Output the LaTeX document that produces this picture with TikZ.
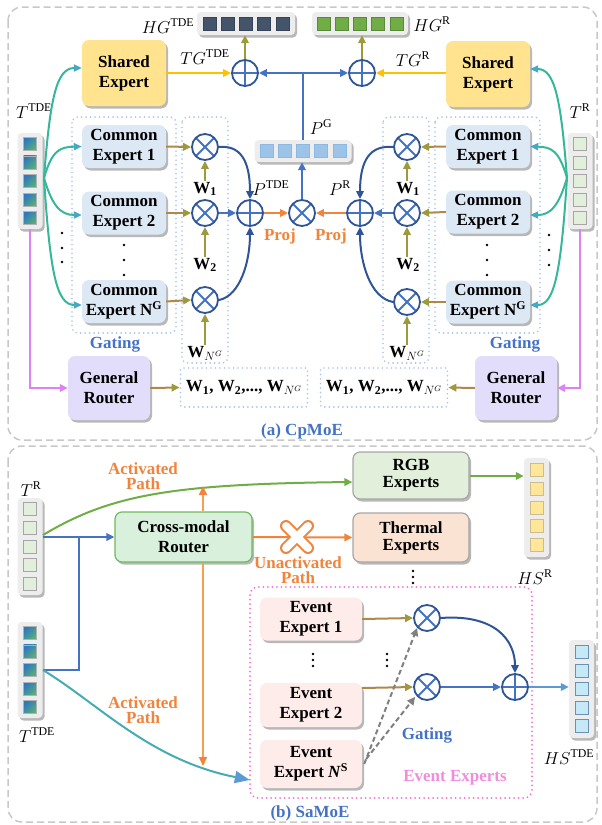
\documentclass[tikz,border=0pt]{standalone}
\usepackage{fontspec}
\setmainfont{Liberation Serif}
\usetikzlibrary{arrows.meta,shadows,calc}
\definecolor{cdblue}{HTML}{2F5597}
\definecolor{cblue}{HTML}{4472C4}
\definecolor{clblue}{HTML}{5B9BD5}
\definecolor{cteal}{HTML}{36B79A}
\definecolor{ctealtip}{HTML}{45A8C5}
\definecolor{cviolet}{HTML}{DD82F2}
\definecolor{colive}{HTML}{9C9A3C}
\definecolor{cbrown}{HTML}{B0884A}
\definecolor{corange}{HTML}{F0843C}
\definecolor{corangel}{HTML}{F9A04E}
\definecolor{cyline}{HTML}{FFC000}
\definecolor{cshared}{HTML}{FFE38E}
\definecolor{ccommon}{HTML}{DDE8F5}
\definecolor{crouter}{HTML}{E1DDFA}
\definecolor{cgate}{HTML}{A9C2EA}
\definecolor{cgray}{HTML}{C8C8C8}
\definecolor{cpink}{HTML}{F56FD6}
\definecolor{cpinktext}{HTML}{F28BDB}
\definecolor{cgreen}{HTML}{70AD47}
\definecolor{ccross}{HTML}{D8F0DC}
\definecolor{ccrossb}{HTML}{72B85E}
\definecolor{crgb}{HTML}{E2EFDA}
\definecolor{cthermal}{HTML}{FBE3D4}
\definecolor{cevent}{HTML}{FDECEA}
\definecolor{ctdeA}{HTML}{2F78C0}
\definecolor{ctdeB}{HTML}{5AAE78}
\definecolor{cvecbg}{HTML}{EDEDED}
\definecolor{chsr}{HTML}{FFE699}
\definecolor{chst}{HTML}{C5E9F7}
\definecolor{chg}{HTML}{44546A}
\begin{document}
\begin{tikzpicture}[x=1pt,y=-1pt,
  every node/.style={font=\fontsize{17}{19.5}\selectfont, inner sep=1pt},
  shd/.style={drop shadow={shadow xshift=2pt,shadow yshift=-2.5pt,opacity=0.28,fill=black}},
  bx/.style={rounded corners=7pt, align=center, font=\fontsize{17}{20}\selectfont\bfseries, inner sep=0pt, shd},
  vbg/.style={rectangle, rounded corners=4pt, fill=cvecbg, inner sep=0pt, shd},
  sq/.style={rectangle, minimum size=13pt, inner sep=0pt, line width=0.8pt},
  gatebox/.style={draw=cgate, line width=1.8pt, dash pattern=on 0pt off 4.5pt, line cap=round, rounded corners=6pt},
  oplusn/.style={circle, draw=cdblue, line width=1.8pt, minimum size=26pt, inner sep=0pt, fill=white,
     path picture={\draw[cblue,line width=1.8pt] (path picture bounding box.north)--(path picture bounding box.south) (path picture bounding box.west)--(path picture bounding box.east);}},
  otimesn/.style={circle, draw=cdblue, line width=1.8pt, minimum size=26pt, inner sep=0pt, fill=white,
     path picture={\draw[cblue,line width=1.8pt] (path picture bounding box.north west)--(path picture bounding box.south east) (path picture bounding box.north east)--(path picture bounding box.south west);}},
  ar/.style={line width=2pt, -{Triangle[length=8pt,width=7.5pt]}},
  oar/.style={draw=cbrown, line width=2pt, -{Triangle[length=8pt,width=7.5pt,color=colive]}},
  tar/.style={draw=cteal, line width=2pt, -{Triangle[length=8pt,width=7pt,color=ctealtip]}},
  lab/.style={font=\fontsize{17}{19.5}\selectfont},
  blab/.style={font=\fontsize{17}{19.5}\selectfont\bfseries},
]
\useasboundingbox (0,0) rectangle (602,825);

% ---------- outer dashed frames ----------
\draw[cgray, line width=1.5pt, dash pattern=on 7pt off 4pt, rounded corners=14pt] (8,7) rectangle (597,440);
\draw[cgray, line width=1.5pt, dash pattern=on 7pt off 4pt, rounded corners=14pt] (8,446) rectangle (597,822);

% ================= (a) CpMoE =================
\draw[gatebox] (72,117) rectangle (176,333);
\draw[gatebox] (182,117) rectangle (228,363);
\draw[gatebox] (383,117) rectangle (429,363);
\draw[gatebox] (435,117) rectangle (540,333);

% token vectors
\node[vbg, minimum width=25pt, minimum height=96pt] (tvL) at (30,181) {};
\foreach \k in {-2,...,2} \node[sq, draw=gray!60, top color=ctdeA, bottom color=ctdeB, shading angle=45] at ($(tvL.center)+(0,\k*18.6)$) {};
\node[lab] at (34,111) {$T^{\mathrm{TDE}}$};
\node[vbg, minimum width=25pt, minimum height=96pt] (tvR) at (580,181) {};
\foreach \k in {-2,...,2} \node[sq, draw=gray!70, fill=crgb] at ($(tvR.center)+(0,\k*18.6)$) {};
\node[lab] at (580,111) {$T^{\mathrm{R}}$};

% experts
\node[bx, fill=cshared, minimum width=84pt, minimum height=66pt] (shL) at (124,73) {Shared\\Expert};
\node[bx, fill=cshared, minimum width=84pt, minimum height=66pt] (shR) at (488,74) {Shared\\Expert};
\node[bx, fill=ccommon, minimum width=84pt, minimum height=43pt] (ce1L) at (124,146.5) {Common\\Expert 1};
\node[bx, fill=ccommon, minimum width=84pt, minimum height=43pt] (ce2L) at (124,213) {Common\\Expert 2};
\node[bx, fill=ccommon, minimum width=84pt, minimum height=43pt] (ceNL) at (124,301.5) {Common\\Expert N\textsuperscript{G}};
\node[bx, fill=ccommon, minimum width=84pt, minimum height=43pt] (ce1R) at (488,146.5) {Common\\Expert 1};
\node[bx, fill=ccommon, minimum width=84pt, minimum height=43pt] (ce2R) at (488,212) {Common\\Expert 2};
\node[bx, fill=ccommon, minimum width=84pt, minimum height=43pt] (ceNR) at (488,302) {Common\\Expert N\textsuperscript{G}};

% vertical dots
\foreach \yy in {245,260,275} {
  \fill (124,\yy) circle (1.3pt);
  \fill (487,\yy) circle (1.3pt);
}
\foreach \yy in {233,248,262} \fill (62,\yy) circle (1.3pt);
\foreach \yy in {235,250,265} \fill (549,\yy) circle (1.3pt);

\node[blab, text=cblue] at (115,344) {Gating};
\node[blab, text=cblue] at (515,344) {Gating};

% routers
\node[bx, fill=crouter, minimum width=82pt, minimum height=64pt] (grL) at (109,388) {General\\Router};
\node[bx, fill=crouter, minimum width=82pt, minimum height=64pt] (grR) at (516,388) {General\\Router};
\node[gatebox, minimum width=127pt, minimum height=39pt, rounded corners=2pt] (wL) at (244,387.5) {\textbf{W\textsubscript{1}, W\textsubscript{2},..., W}$_{N^{G}}$};
\node[gatebox, minimum width=127pt, minimum height=39pt, rounded corners=2pt] (wR) at (384,387.5) {\textbf{W\textsubscript{1}, W\textsubscript{2},..., W}$_{N^{G}}$};

% gating multipliers
\node[otimesn] (m1L) at (205,147) {};
\node[otimesn] (m2L) at (205,213) {};
\node[otimesn] (mNL) at (205,300) {};
\node[otimesn] (m1R) at (407,147) {};
\node[otimesn] (m2R) at (407,213) {};
\node[otimesn] (mNR) at (407,302) {};
\node[lab] (w1L) at (205,189) {\textbf{W\textsubscript{1}}};
\node[lab] (w2L) at (205,265) {\textbf{W\textsubscript{2}}};
\node[lab] (wNL) at (205,353) {\textbf{W}$_{N^{G}}$};
\node[lab] (w1R) at (408,189) {\textbf{W\textsubscript{1}}};
\node[lab] (w2R) at (408,265) {\textbf{W\textsubscript{2}}};
\node[lab] (wNR) at (407,353) {\textbf{W}$_{N^{G}}$};

% central fusion
\node[oplusn] (pL) at (250,213) {};
\node[oplusn] (pR) at (360,213) {};
\node[otimesn] (mC) at (302,213) {};
\node[lab] at (271,188) {$P^{\mathrm{TDE}}$};
\node[lab] at (340,188) {$P^{\mathrm{R}}$};
\node[blab, text=corange] at (280,236) {Proj};
\node[blab, text=corange] at (331,236) {Proj};

\node[vbg, minimum width=97pt, minimum height=22pt] (pg) at (303,151) {};
\foreach \k in {-2,...,2} \node[sq, draw=clblue!70, fill=clblue!60] at ($(pg.center)+(\k*18.3,0)$) {};
\node[lab] at (321,127) {$P^{\mathrm{G}}$};

% top fusion
\node[oplusn] (hL) at (245,73) {};
\node[oplusn] (hR) at (362,73) {};
\node[vbg, minimum width=98pt, minimum height=23pt] (hgL) at (246,23.5) {};
\foreach \k in {-2,...,2} \node[sq, draw=chg!80!black, fill=chg] at ($(hgL.center)+(\k*18.3,0)$) {};
\node[vbg, minimum width=96pt, minimum height=23pt] (hgR) at (360,23.5) {};
\foreach \k in {-2,...,2} \node[sq, draw=cgreen!80!black, fill=cgreen] at ($(hgR.center)+(\k*18.3,0)$) {};
\node[lab] at (168,26) {$HG^{\mathrm{TDE}}$};
\node[lab] at (432,24) {$HG^{\mathrm{R}}$};
\node[lab] at (205,57) {$TG^{\mathrm{TDE}}$};
\node[lab] at (413,59) {$TG^{\mathrm{R}}$};

% ---- connectors (a) ----
\coordinate (tsL) at (44,178);
\coordinate (tsR) at (567,178);
\draw[tar] (tsL) .. controls (50,100) and (56,68) .. ($(shL.west)+(0,-5)$);
\draw[tar] (tsL) .. controls (52,150) and (60,147) .. (ce1L.west);
\draw[tar] (tsL) .. controls (52,205) and (60,215) .. ($(ce2L.west)+(0,2)$);
\draw[tar] (tsL) .. controls (50,270) and (56,305) .. ($(ceNL.west)+(0,3.5)$);
\draw[tar] (tsR) .. controls (561,100) and (555,69) .. ($(shR.east)+(0,-5)$);
\draw[tar] (tsR) .. controls (559,150) and (551,147) .. (ce1R.east);
\draw[tar] (tsR) .. controls (559,205) and (551,215) .. ($(ce2R.east)+(0,3)$);
\draw[tar] (tsR) .. controls (561,270) and (555,305) .. ($(ceNR.east)+(0,3)$);

\draw[line width=2pt, -{Triangle[length=8pt,width=7.5pt]}, cviolet] (tvL.south) |- (grL.west);
\draw[line width=2pt, -{Triangle[length=8pt,width=7.5pt]}, cviolet] (tvR.south) |- (grR.east);

\draw[oar] (grL.east) -- (wL.west);
\draw[oar] (grR.west) -- (wR.east);

\draw[oar] (ce1L.east) -- (m1L.west);
\draw[oar] (ce2L.east) -- (m2L.west);
\draw[oar] (ceNL.east) -- (mNL.west);
\draw[oar] (ce1R.west) -- (m1R.east);
\draw[oar] (ce2R.west) -- (m2R.east);
\draw[oar] (ceNR.west) -- (mNR.east);

\draw[ar, colive] (w1L.north) -- (m1L.south);
\draw[ar, colive] (w2L.north) -- (m2L.south);
\draw[ar, colive] (wNL.north) -- (mNL.south);
\draw[ar, colive] (w1R.north -| m1R) -- (m1R.south);
\draw[ar, colive] (w2R.north -| m2R) -- (m2R.south);
\draw[ar, colive] (wNR.north) -- (mNR.south);

\draw[ar, cdblue] (m1L.east) .. controls (240,145) and (250,160) .. (pL.north);
\draw[ar, cblue] (m2L.east) -- (pL.west);
\draw[ar, cdblue] (mNL.east) .. controls (240,296) and (250,262) .. (pL.south);
\draw[ar, cdblue] (m1R.west) .. controls (370,145) and (360,160) .. (pR.north);
\draw[ar, cblue] (m2R.west) -- (pR.east);
\draw[ar, cdblue] (mNR.west) .. controls (370,298) and (360,262) .. (pR.south);

\draw[ar, corange] (pL.east) -- (mC.west);
\draw[ar, corange] (pR.west) -- (mC.east);
\draw[ar, cblue] (mC.north) -- (mC.north |- pg.south);

\coordinate (j) at (303,73);
\draw[line width=2pt, cblue] (pg.north -| j) -- (j);
\draw[ar, cblue] (j) -- (hL.east);
\draw[ar, cblue] (j) -- (hR.west);
\draw[ar, cyline] (shL.east) -- (hL.west);
\draw[ar, cyline] (shR.west |- hR) -- (hR.east);
\draw[ar, colive] (hL.north) -- (hL.north |- hgL.south);
\draw[ar, colive] (hR.north) -- (hR.north |- hgR.south);

\node[blab, text=cblue] at (302,431) {(a) CpMoE};

% ================= (b) SaMoE =================
\draw[draw=cpink, line width=2pt, dash pattern=on 0pt off 4.5pt, line cap=round, rounded corners=8pt] (250,587) rectangle (532,798);

\node[vbg, minimum width=25pt, minimum height=97pt] (tRb) at (30,546.5) {};
\foreach \k in {-2,...,2} \node[sq, draw=gray!70, fill=crgb] at ($(tRb.center)+(0,\k*18.6)$) {};
\node[lab] at (31,489) {$T^{\mathrm{R}}$};
\node[vbg, minimum width=25pt, minimum height=96pt] (tTb) at (30,670) {};
\foreach \k in {-2,...,2} \node[sq, draw=gray!60, top color=ctdeA, bottom color=ctdeB, shading angle=45] at ($(tTb.center)+(0,\k*18.6)$) {};
\node[lab] at (37,735) {$T^{\mathrm{TDE}}$};

\node[bx, fill=ccross, draw=ccrossb, line width=1.2pt, minimum width=137pt, minimum height=50pt] (router) at (183.5,537) {Cross-modal\\Router};
\node[bx, fill=crgb, draw=gray!70, line width=1.2pt, minimum width=116pt, minimum height=47pt, font=\fontsize{17}{17}\selectfont\bfseries] (rgb) at (411,475.5) {RGB\\Experts};
\node[bx, fill=cthermal, draw=gray!70, line width=1.2pt, minimum width=116pt, minimum height=49pt, font=\fontsize{17}{17}\selectfont\bfseries] (thermal) at (411,537.5) {Thermal\\Experts};
\foreach \yy in {571,577,583} \fill (413,\yy) circle (1.3pt);

\node[vbg, minimum width=25pt, minimum height=99pt] (hsR) at (536.5,507.5) {};
\foreach \k in {-2,...,2} \node[sq, draw=chsr!60!gray, fill=chsr] at ($(hsR.center)+(0,\k*18.6)$) {};
\node[lab] at (535,577) {$HS^{\mathrm{R}}$};

\node[vbg, minimum width=25pt, minimum height=98pt] (hsT) at (581.5,689) {};
\foreach \k in {-2,...,2} \node[sq, draw=clblue!60!gray, fill=chst] at ($(hsT.center)+(0,\k*18.6)$) {};
\node[lab] at (569,757) {$HS^{\mathrm{TDE}}$};

\node[bx, fill=cevent, minimum width=102pt, minimum height=43pt] (ev1) at (311,619) {Event\\Expert 1};
\node[bx, fill=cevent, minimum width=102pt, minimum height=44pt] (ev2) at (311,705) {Event\\Expert 2};
\node[bx, fill=cevent, minimum width=102pt, minimum height=48pt] (evN) at (311,764) {Event\\Expert \textit{N}\textsuperscript{S}};
\foreach \yy in {654,660,666} { \fill (313,\yy) circle (1.3pt); \fill (387,\yy) circle (1.3pt); }

\node[otimesn] (om1) at (427,618) {};
\node[otimesn] (om2) at (427,687) {};
\node[oplusn] (op) at (515,687) {};
\node[blab, text=cblue] at (427,735) {Gating};
\node[blab, text=cpinktext] at (455,778) {Event Experts};

\node[blab, text=corange, align=center, font=\fontsize{17}{15.5}\selectfont\bfseries] at (143,476) {Activated\\Path};
\node[blab, text=corange, align=center, font=\fontsize{17}{15.5}\selectfont\bfseries] at (143,710) {Activated\\Path};
\node[blab, text=corange, align=center, font=\fontsize{17}{15.5}\selectfont\bfseries] at (298,570) {Unactivated\\Path};

% ---- connectors (b) ----
\coordinate (tRo) at (43,537);
\coordinate (tTo) at (43,670);
\coordinate (jb) at (79,670);
\coordinate (rgbin) at ($(rgb.west)+(0,6.5)$);
\coordinate (rgbout) at ($(rgb.east)+(0,0.5)$);
\coordinate (evNout) at ($(evN.west)+(-10,16)$);
\draw[ar, cgreen] (43,535) .. controls (110,495) and (170,484) .. (rgbin);
\draw[line width=2pt, cblue] (tTo) -- (jb) -- (jb |- tRo);
\draw[ar, cblue] (tRo) -- (router.west);
\draw[line width=2pt, -{Triangle[length=15pt,width=12pt,color=clblue]}, draw=cteal!60!clblue] (tTo) .. controls (100,705) and (150,760) .. (evNout);

\coordinate (aTop) at (203,486);
\coordinate (aBot) at (203,766);
\draw[line width=2pt, corangel, -{Triangle[length=9pt,width=8pt,color=corange]}] (router.north -| aTop) -- (aTop);
\draw[line width=2pt, corangel, -{Triangle[length=9pt,width=8pt,color=corange]}] (router.south -| aBot) -- (aBot);

\draw[ar, corange] (router.east) -- (thermal.west);
\draw[corange, line width=12pt, line cap=round] (286,526) -- (308,548) (308,526) -- (286,548);
\draw[white, line width=8pt, line cap=round] (286,526) -- (308,548) (308,526) -- (286,548);

\draw[ar, cgreen] (rgbout) -- (rgbout -| hsR.west);

\coordinate (ev2out) at ($(ev2.east)+(0,-17)$);
\coordinate (evNa) at ($(evN.east)+(2,0)$);
\coordinate (evNb) at ($(evN.east)+(4,-5)$);
\coordinate (om2in) at ($(om2.south west)+(-2,0)$);
\draw[oar] (ev1.east) -- (om1.west);
\draw[oar] (ev2out) -- (om2.west);
\draw[ar, gray, dash pattern=on 5pt off 3pt] (evNa) -- (om1.south west);
\draw[ar, gray, dash pattern=on 5pt off 3pt] (evNb) -- (om2in);
\draw[ar, cdblue] (om1.east) .. controls (495,614) and (515,640) .. (op.north);
\draw[ar, cblue] (om2.east) -- (op.west);
\draw[ar, clblue] (op.east) -- (op.east -| hsT.west);

\node[blab, text=cblue] at (310,813) {(b) SaMoE};
\end{tikzpicture}
\end{document}
